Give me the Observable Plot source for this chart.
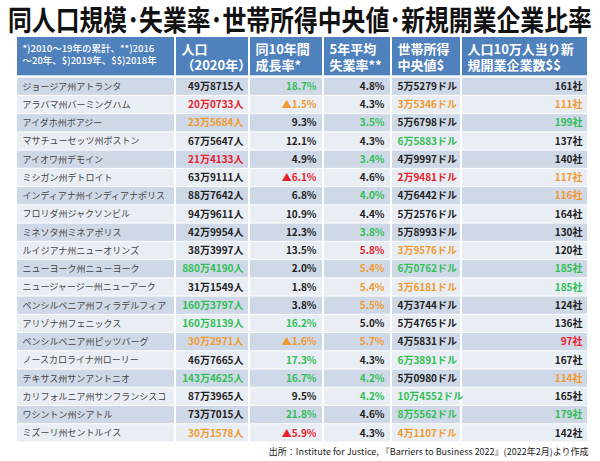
<!DOCTYPE html>
<html><head><meta charset="utf-8">
<script src="https://cdn.jsdelivr.net/npm/d3@7"></script>
<script src="https://cdn.jsdelivr.net/npm/@observablehq/plot@0.6"></script>
<style>
body{margin:0;background:#fff;font-family:"Noto Sans CJK JP","Noto Sans",sans-serif;}
#title{height:37px;white-space:nowrap;overflow:visible;}
#title span{display:inline-block;font-size:28px;font-weight:700;color:#111;line-height:37px;transform-origin:0 50%;margin-left:8px;}
#chart svg{display:block;}
</style></head><body>
<div id="title"><span>同人口規模･失業率･世帯所得中央値･新規開業企業比率</span></div>
<div id="chart"></div>
<script>
// ---- data ----
const headers = [
  "*)2010～19年の累計、**)2016\n～20年、$)2019年、$$)2018年",
  "人口\n（2020年）",
  "同10年間\n成長率*",
  "5年平均\n失業率**",
  "世帯所得\n中央値$",
  "人口10万人当り新\n規開業企業数$$"
];
const cities = ["ジョージア州アトランタ","アラバマ州バーミングハム","アイダホ州ボアジー","マサチューセッツ州ボストン","アイオワ州デモイン","ミシガン州デトロイト","インディアナ州インディアナポリス","フロリダ州ジャクソンビル","ミネソタ州ミネアポリス","ルイジアナ州ニューオリンズ","ニューヨーク州ニューヨーク","ニュージャージー州ニューアーク","ペンシルベニア州フィラデルフィア","アリゾナ州フェニックス","ペンシルベニア州ピッツバーグ","ノースカロライナ州ローリー","テキサス州サンアントニオ","カリフォルニア州サンフランシスコ","ワシントン州シアトル","ミズーリ州セントルイス"];
const population = ["49万8715人","20万0733人","23万5684人","67万5647人","21万4133人","63万9111人","88万7642人","94万9611人","42万9954人","38万3997人","880万4190人","31万1549人","160万3797人","160万8139人","30万2971人","46万7665人","143万4625人","87万3965人","73万7015人","30万1578人"];
const popFlag = ["","r","o","","r","","","","","","g","","g","g","o","","g","","","o"];
const growth = ["18.7%","▲1.5%","9.3%","12.1%","4.9%","▲6.1%","6.8%","10.9%","12.3%","13.5%","2.0%","1.8%","3.8%","16.2%","▲1.6%","17.3%","16.7%","9.5%","21.8%","▲5.9%"];
const growthFlag = ["g","o","","","","r","","","","","","","","g","o","g","g","","g","r"];
const unemployment = ["4.8%","4.3%","3.5%","4.3%","3.4%","4.6%","4.0%","4.4%","3.8%","5.8%","5.4%","5.4%","5.5%","5.0%","5.7%","4.3%","4.2%","4.2%","4.6%","4.3%"];
const unempFlag = ["","","g","","g","","g","","g","r","o","o","o","","o","","g","g","",""];
const income = ["5万5279ドル","3万5346ドル","5万6798ドル","6万5883ドル","4万9997ドル","2万9481ドル","4万6442ドル","5万2576ドル","5万8993ドル","3万9576ドル","6万0762ドル","3万6181ドル","4万3744ドル","5万4765ドル","4万5831ドル","6万3891ドル","5万0980ドル","10万4552ドル","8万5562ドル","4万1107ドル"];
const incomeFlag = ["","o","","g","","r","","","","o","g","o","","","","g","","g","g","o"];
const startups = ["161社","111社","199社","137社","140社","117社","116社","164社","130社","120社","185社","185社","124社","136社","97社","167社","114社","165社","179社","142社"];
const startupFlag = ["","o","g","","","o","o","","","","g","g","","","r","","o","","g",""];
const source = "出所：Institute for Justice, 『Barriers to Business 2022』(2022年2月)より作成";

// ---- layout ----
const colEdges = [16,175,249,323,391,461,588];
const colAlign = ["start","end","end","end","start","end"];
const colPad = [6,6,7,7,6,6];
const flagColor = {"": "#222", g: "#2fbf55", o: "#f29a2e", r: "#e8212b"};

// fit the title to its width: shrink font to fit, then stretch vertically back
const titleSpan = document.querySelector("#title span");
const tw = titleSpan.getBoundingClientRect().width;
const k = 584 / tw;
titleSpan.style.fontSize = (28 * k) + "px";
titleSpan.style.transform = `scaleY(${1 / k})`;

const columns = [
  cities.map(t => ({t, f: ""})),
  population.map((t,i) => ({t, f: popFlag[i]})),
  growth.map((t,i) => ({t, f: growthFlag[i]})),
  unemployment.map((t,i) => ({t, f: unempFlag[i]})),
  income.map((t,i) => ({t, f: incomeFlag[i]})),
  startups.map((t,i) => ({t, f: startupFlag[i]}))
];
const cells = [];
columns.forEach((col, j) => col.forEach((c, i) => cells.push({row: i, col: j, text: c.t, flag: c.f})));
const heads = headers.map((text, j) => ({col: j, text}));
const textX = d => colAlign[d.col] === "start" ? colEdges[d.col] + colPad[d.col] : colEdges[d.col + 1] - colPad[d.col];
const headX = d => colEdges[d.col] + 6;

const chart = Plot.plot({
  width: 600, height: 424,
  marginTop: 0, marginLeft: 0, marginRight: 0, marginBottom: 19,
  x: {domain: [0, 600], range: [0, 600], axis: null},
  y: {domain: [-2.2, 20], reverse: true, axis: null},
  style: {fontFamily: '"Noto Sans CJK JP","Noto Sans",sans-serif', background: "#fff"},
  marks: [
    Plot.rect(heads, {x1: d => colEdges[d.col], x2: d => colEdges[d.col + 1], y1: () => -2.2, y2: () => -0.1,
      fill: "#4f81bd", insetLeft: 1, insetRight: 1}),
    Plot.rect(cells, {x1: d => colEdges[d.col], x2: d => colEdges[d.col + 1], y1: d => d.row, y2: d => d.row + 1,
      fill: d => d.row % 2 === 0 ? "#cfd8e7" : "#e9edf4", insetLeft: 1, insetRight: 1, insetTop: 0.5, insetBottom: 0.5}),
    Plot.text(heads.filter(d => d.col === 0), {x: headX, y: () => -1.28, text: "text", textAnchor: "start",
      fill: "#fff", fontSize: 9.5, lineHeight: 1.3, fontWeight: 500}),
    Plot.text(heads.filter(d => d.col > 0), {x: headX, y: () => -1.16, text: "text", textAnchor: "start",
      fill: "#fff", fontSize: 13, lineHeight: 1.25, fontWeight: 700}),
    Plot.text(cells.filter(d => d.col === 0), {x: textX, y: d => d.row + 0.5, text: "text", textAnchor: "start",
      fill: "#444", fontSize: 9}),
    Plot.text(cells.filter(d => d.col > 0 && colAlign[d.col] === "start"), {x: textX, y: d => d.row + 0.5, text: "text",
      textAnchor: "start", fill: d => flagColor[d.flag], fontSize: 10, fontWeight: 700}),
    Plot.text(cells.filter(d => d.col > 0 && colAlign[d.col] === "end"), {x: textX, y: d => d.row + 0.5, text: "text",
      textAnchor: "end", fill: d => flagColor[d.flag], fontSize: 10, fontWeight: 700}),
    Plot.text([source], {x: () => 588, y: () => 20, dy: 10, text: d => d, textAnchor: "end", fill: "#222", fontSize: 9})
  ]
});
document.getElementById("chart").append(chart);
</script>
</body></html>
